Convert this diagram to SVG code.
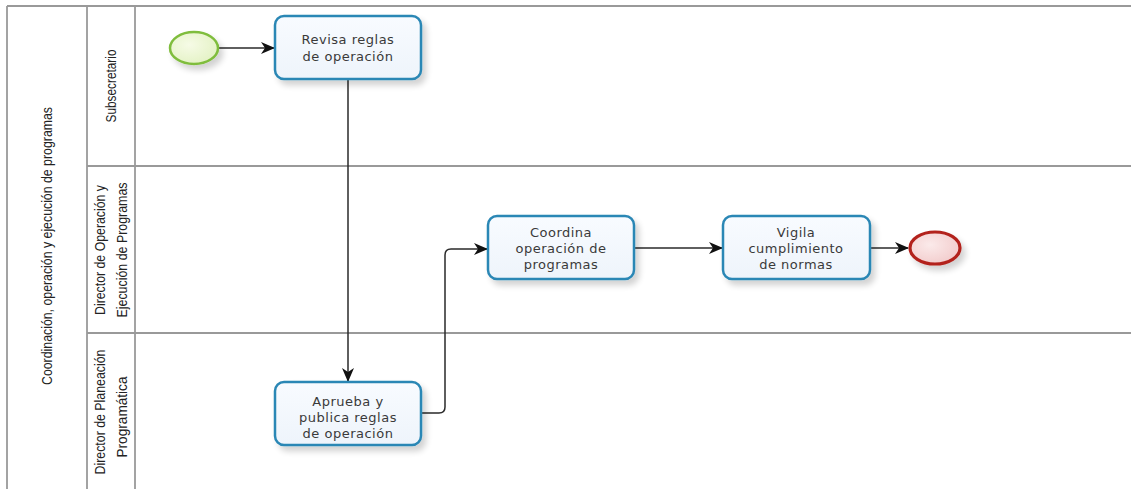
<svg xmlns="http://www.w3.org/2000/svg" width="1131" height="489" viewBox="0 0 1131 489">
<style>
.pool{stroke:#999;stroke-width:1.8;fill:none}
.lbl{font-family:"Liberation Sans Narrow","Liberation Sans",sans-serif;font-size:14px;fill:#222;text-anchor:middle}
.task rect{fill:url(#taskFill);stroke:#2b87b5;stroke-width:2.5}
.task text{font-family:"DejaVu Sans",sans-serif;font-size:13px;fill:#3a3a3a;text-anchor:middle;letter-spacing:0.5px}
.conn{stroke:#2a2a2a;stroke-width:1.5;fill:none;marker-end:url(#arr)}
</style>
<defs>
<linearGradient id="taskFill" x1="0" y1="0" x2="0" y2="1">
<stop offset="0" stop-color="#f8fbff"/><stop offset="1" stop-color="#eef4fb"/>
</linearGradient>
<radialGradient id="startFill" cx="0.4" cy="0.4" r="0.7">
<stop offset="0" stop-color="#f6fbe6"/><stop offset="1" stop-color="#e2f1c2"/>
</radialGradient>
<radialGradient id="endFill" cx="0.4" cy="0.4" r="0.7">
<stop offset="0" stop-color="#fbeaea"/><stop offset="1" stop-color="#f1c9c9"/>
</radialGradient>
<filter id="sh" x="-20%" y="-20%" width="150%" height="160%">
<feGaussianBlur in="SourceAlpha" stdDeviation="3"/>
<feOffset dx="4" dy="5" result="b"/>
<feComponentTransfer><feFuncA type="linear" slope="0.18"/></feComponentTransfer>
<feMerge><feMergeNode/><feMergeNode in="SourceGraphic"/></feMerge>
</filter>
<marker id="arr" viewBox="0 0 14 12" refX="13" refY="6" markerWidth="14" markerHeight="12" markerUnits="userSpaceOnUse" orient="auto">
<path d="M0,0 L14,6 L0,12 L4,6 Z" fill="#111"/>
</marker>
</defs>
<rect width="1131" height="489" fill="#fff"/>
<g id="pool">
<line class="pool" x1="7" y1="6" x2="1131" y2="6"/>
<line class="pool" x1="7" y1="6" x2="7" y2="489"/>
<line class="pool" x1="87" y1="6" x2="87" y2="489"/>
<line class="pool" x1="135" y1="6" x2="135" y2="489"/>
<line class="pool" x1="87" y1="166" x2="1131" y2="166"/>
<line class="pool" x1="87" y1="333" x2="1131" y2="333"/>
<text class="lbl" transform="translate(52,246) rotate(-90)" textLength="278" lengthAdjust="spacingAndGlyphs">Coordinación, operación y ejecución de programas</text>
</g>
<g id="lane-subsecretario">
<text class="lbl" transform="translate(116,86) rotate(-90)" textLength="73" lengthAdjust="spacingAndGlyphs">Subsecretario</text>
</g>
<g id="lane-director-operacion">
<text class="lbl" transform="translate(105,250) rotate(-90)" textLength="130" lengthAdjust="spacingAndGlyphs">Director de Operación y</text>
<text class="lbl" transform="translate(127,250) rotate(-90)" textLength="135" lengthAdjust="spacingAndGlyphs">Ejecución de Programas</text>
</g>
<g id="lane-director-planeacion">
<text class="lbl" transform="translate(105,412) rotate(-90)" textLength="125" lengthAdjust="spacingAndGlyphs">Director de Planeación</text>
<text class="lbl" transform="translate(127,417) rotate(-90)" textLength="81" lengthAdjust="spacingAndGlyphs">Programática</text>
</g>
<g id="connectors">
<line class="conn" x1="219" y1="48" x2="274" y2="48"/>
<line class="conn" x1="348" y1="80" x2="348" y2="381"/>
<path class="conn" d="M422,413 H439 Q445,413 445,407 V255 Q445,249 451,249 H487"/>
<line class="conn" x1="635" y1="248" x2="722" y2="248"/>
<line class="conn" x1="871" y1="248" x2="908" y2="248"/>
</g>
<g id="start">
<ellipse cx="194" cy="48" rx="24" ry="16" fill="url(#startFill)" stroke="#7fbd3c" stroke-width="2.5" filter="url(#sh)"/>
</g>
<g id="task-revisa" class="task">
<rect x="275" y="16" width="146" height="63" rx="9" filter="url(#sh)"/>
<text x="348" y="44">Revisa reglas</text>
<text x="348" y="61">de operación</text>
</g>
<g id="task-aprueba" class="task">
<rect x="275" y="382" width="146" height="63" rx="9" filter="url(#sh)"/>
<text x="348" y="406">Aprueba y</text>
<text x="348" y="422">publica reglas</text>
<text x="348" y="438">de operación</text>
</g>
<g id="task-coordina" class="task">
<rect x="488" y="216" width="146" height="63" rx="9" filter="url(#sh)"/>
<text x="561" y="237">Coordina</text>
<text x="561" y="253">operación de</text>
<text x="561" y="269">programas</text>
</g>
<g id="task-vigila" class="task">
<rect x="723" y="216" width="147" height="63" rx="9" filter="url(#sh)"/>
<text x="796" y="237">Vigila</text>
<text x="796" y="253">cumplimiento</text>
<text x="796" y="269">de normas</text>
</g>
<g id="end">
<ellipse cx="935" cy="248" rx="25" ry="16" fill="url(#endFill)" stroke="#b3231d" stroke-width="3.2" filter="url(#sh)"/>
</g>
</svg>
